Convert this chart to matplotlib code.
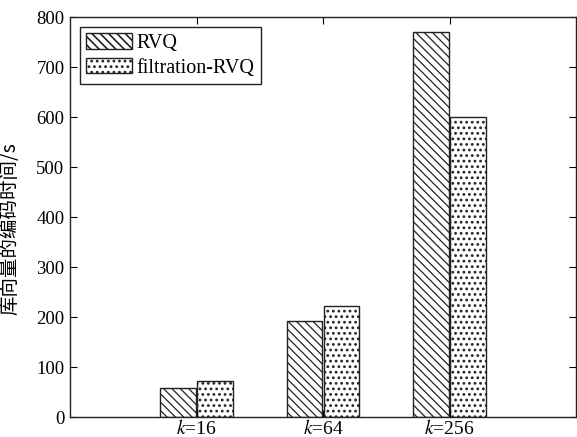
import matplotlib
matplotlib.use("Agg")
import matplotlib.pyplot as plt
import numpy as np

categories = ["$k$=16", "$k$=64", "$k$=256"]
series_names = ["RVQ", "filtration-RVQ"]
rvq = [58, 192, 770]
filtration_rvq = [72, 222, 600]
yticks = [0, 100, 200, 300, 400, 500, 600, 700, 800]
ylabel = "库向量的编码时间/s"

plt.rcParams['font.family'] = ['Liberation Serif', 'DejaVu Serif']
plt.rcParams['mathtext.fontset'] = 'stix'

fig = plt.figure(figsize=(5.77, 4.37), dpi=100)
ax = fig.add_axes([70/577, 20/437, 506/577, 400/437])

x = np.arange(1, len(categories) + 1)
w = 0.28
off = 0.145
plt.rcParams['hatch.linewidth'] = 0.9
b1 = ax.bar(x - off, rvq, w, facecolor='white', edgecolor='#222222', linewidth=1.0,
            hatch='\\\\\\\\', label=series_names[0])
plt.rcParams['hatch.linewidth'] = 1.2
b2 = ax.bar(x + off, filtration_rvq, w, facecolor='white', edgecolor='#222222', linewidth=1.0,
            hatch='...', label=series_names[1])

ax.set_xlim(0, 4)
ax.set_ylim(0, 800)
ax.set_xticks(x)
ax.set_xticklabels(categories, fontsize=14)
ax.set_yticks(yticks)
ax.set_yticklabels([str(v) for v in yticks], fontsize=13.5)
ax.tick_params(direction='in', top=True, right=True, length=5, width=0.8, pad=4)
ax.tick_params(axis='x', pad=1.5)
for s in ax.spines.values():
    s.set_linewidth(1.0)
    s.set_color('#222222')

ax.set_ylabel(ylabel, fontsize=14, family=['Noto Sans CJK SC', 'DejaVu Sans'])
ax.yaxis.set_label_coords(-0.098, 0.47)

leg = ax.legend(loc='upper left', fontsize=14.5, handlelength=2.3, handleheight=0.8,
                fancybox=False, framealpha=1, edgecolor='#222222', borderpad=0.3,
                labelspacing=0.25, handletextpad=0.2, borderaxespad=0.5)
leg.get_frame().set_linewidth(1.0)

fig.savefig("out.png", dpi=100, facecolor='white')
